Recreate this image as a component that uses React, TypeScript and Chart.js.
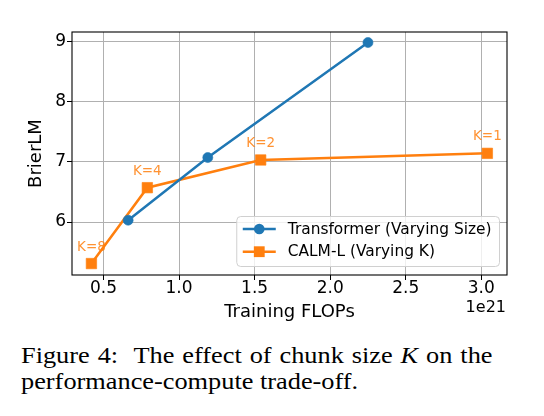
import React, { useEffect, useRef } from 'react';
import { Chart, registerables } from 'chart.js';

Chart.register(...registerables);

// ---- data ----
const transformerFlops = [0.663, 1.19, 2.25];
const transformerBrier = [6.03, 7.07, 8.98];
const calmFlops = [0.42, 0.79, 1.54, 3.04];
const calmBrier = [5.31, 6.57, 7.03, 7.14];
const calmLabels = ['K=8', 'K=4', 'K=2', 'K=1'];
const xTicks = [0.5, 1.0, 1.5, 2.0, 2.5, 3.0];
const yTicks = [6, 7, 8, 9];
const seriesNames = ['Transformer (Varying Size)', 'CALM-L (Varying K)'];
const xTitle = 'Training FLOPs';
const yTitle = 'BrierLM';
const xOffsetText = '1e21';

const BLUE = '#1f77b4';
const ORANGE = '#ff7f0e';
const FONT = 'DejaVu Sans';

const overlay = {
  id: 'overlay',
  afterDatasetsDraw(chart: any) {
    const { ctx, chartArea: a } = chart;
    ctx.save();
    // frame (spines)
    ctx.strokeStyle = '#000';
    ctx.lineWidth = 1.1;
    ctx.strokeRect(a.left, a.top, a.right - a.left, a.bottom - a.top);

    // K annotations above CALM points
    const meta = chart.getDatasetMeta(1);
    ctx.fillStyle = 'rgba(255,127,14,0.85)';
    ctx.font = `13.5px "${FONT}"`;
    ctx.textAlign = 'center';
    ctx.textBaseline = 'alphabetic';
    meta.data.forEach((p: any, i: number) => {
      ctx.fillText(calmLabels[i], p.x, p.y - 13);
    });

    // offset text
    ctx.fillStyle = '#000';
    ctx.font = `16px "${FONT}"`;
    ctx.textAlign = 'right';
    ctx.fillText(xOffsetText, a.right - 1, a.bottom + 36.5);
    ctx.restore();
  },
  afterDraw(chart: any) {
    const { ctx, chartArea: a } = chart;
    ctx.save();
    ctx.font = `15.4px "${FONT}"`;
    const tw = Math.max(...seriesNames.map((s) => ctx.measureText(s).width));
    const right = a.right - 7.5;
    const bottom = a.bottom - 8.5;
    const w = 51 + tw + 8;
    const h = 50;
    const left = right - w;
    const top = bottom - h;
    // box
    ctx.beginPath();
    const r = 4;
    ctx.moveTo(left + r, top);
    ctx.lineTo(right - r, top);
    ctx.quadraticCurveTo(right, top, right, top + r);
    ctx.lineTo(right, bottom - r);
    ctx.quadraticCurveTo(right, bottom, right - r, bottom);
    ctx.lineTo(left + r, bottom);
    ctx.quadraticCurveTo(left, bottom, left, bottom - r);
    ctx.lineTo(left, top + r);
    ctx.quadraticCurveTo(left, top, left + r, top);
    ctx.closePath();
    ctx.fillStyle = 'rgba(255,255,255,0.8)';
    ctx.fill();
    ctx.strokeStyle = '#d0d0d0';
    ctx.lineWidth = 1;
    ctx.stroke();

    const rows = [top + 12.5, top + 35.2];
    const colors = [BLUE, ORANGE];
    rows.forEach((y, i) => {
      ctx.strokeStyle = colors[i];
      ctx.lineWidth = 2.5;
      ctx.beginPath();
      ctx.moveTo(left + 6, y);
      ctx.lineTo(left + 39, y);
      ctx.stroke();
      ctx.fillStyle = colors[i];
      const cx = left + 22.5;
      if (i === 0) {
        ctx.beginPath();
        ctx.arc(cx, y, 5.3, 0, Math.PI * 2);
        ctx.fill();
      } else {
        ctx.fillRect(cx - 5.4, y - 5.4, 10.8, 10.8);
      }
      ctx.fillStyle = '#000';
      ctx.font = `15.4px "${FONT}"`;
      ctx.textAlign = 'left';
      ctx.textBaseline = 'middle';
      ctx.fillText(seriesNames[i], left + 51, y + 0.5);
    });
    ctx.restore();
  },
};

function BrierChart() {
  const ref = useRef<HTMLCanvasElement | null>(null);
  useEffect(() => {
    if (!ref.current) return;
    const chart = new Chart(ref.current, {
      type: 'scatter',
      data: {
        datasets: [
          {
            label: seriesNames[0],
            data: transformerFlops.map((x, i) => ({ x, y: transformerBrier[i] })),
            showLine: true,
            borderColor: BLUE,
            backgroundColor: BLUE,
            borderWidth: 2.5,
            pointStyle: 'circle',
            pointRadius: 5,
            pointBorderWidth: 0.6,
            pointBackgroundColor: BLUE,
            pointBorderColor: BLUE,
          },
          {
            label: seriesNames[1],
            data: calmFlops.map((x, i) => ({ x, y: calmBrier[i] })),
            showLine: true,
            borderColor: ORANGE,
            backgroundColor: ORANGE,
            borderWidth: 2.5,
            pointStyle: 'rect',
            pointRadius: 7.4,
            pointBorderWidth: 0.6,
            pointBackgroundColor: ORANGE,
            pointBorderColor: ORANGE,
          },
        ],
      },
      options: {
        animation: false,
        responsive: false,
        maintainAspectRatio: false,
        devicePixelRatio: 1,
        layout: { padding: { top: 32, right: 37, left: 0, bottom: 0 } },
        plugins: { legend: { display: false }, tooltip: { enabled: false } },
        scales: {
          x: {
            type: 'linear',
            min: 0.2915,
            max: 3.17,
            afterBuildTicks: (s: any) => {
              s.ticks = xTicks.map((v) => ({ value: v }));
            },
            afterFit: (s: any) => {
              s.height = 55;
            },
            ticks: {
              font: { family: FONT, size: 17, lineHeight: 1 },
              color: '#000',
              padding: 0,
              maxRotation: 0,
              autoSkip: false,
              callback: (v: any) => Number(v).toFixed(1),
            },
            grid: { color: '#b0b0b0', lineWidth: 1, tickColor: '#000', tickLength: 5, drawTicks: true },
            border: { display: false },
            title: {
              display: true,
              text: xTitle,
              color: '#000',
              font: { family: FONT, size: 18 },
              padding: { top: 0, bottom: 6.6 },
            },
          },
          y: {
            type: 'linear',
            min: 5.12,
            max: 9.155,
            afterBuildTicks: (s: any) => {
              s.ticks = yTicks.map((v) => ({ value: v }));
            },
            afterFit: (s: any) => {
              s.width = 72;
            },
            ticks: {
              font: { family: FONT, size: 17 },
              color: '#000',
              padding: 1,
              autoSkip: false,
              callback: (v: any) => String(v),
            },
            grid: { color: '#b0b0b0', lineWidth: 1, tickColor: '#000', tickLength: 5, drawTicks: true },
            border: { display: false },
            title: {
              display: true,
              text: yTitle,
              color: '#000',
              font: { family: FONT, size: 18 },
              padding: { top: 26, bottom: 0 },
            },
          },
        },
      },
      plugins: [overlay],
    } as any);
    return () => chart.destroy();
  }, []);
  return (
    <canvas
      ref={ref}
      width={544}
      height={330}
      style={{ position: 'absolute', left: 0, top: 0, width: 544, height: 330 }}
    />
  );
}

export default function App() {
  return (
    <div
      style={{
        position: 'absolute',
        left: 0,
        top: 0,
        width: 544,
        height: 416,
        background: '#fff',
        overflow: 'hidden',
      }}
    >
      <BrierChart />
      <div
        style={{
          position: 'absolute',
          left: 21,
          top: 343,
          width: 403,
          fontFamily: '"Liberation Serif", "Times New Roman", serif',
          fontSize: 22.5,
          lineHeight: '26px',
          color: '#000',
          transform: 'scaleX(1.17)',
          transformOrigin: 'left top',
          whiteSpace: 'nowrap',
        }}
      >
        <div style={{ textAlign: 'justify', textAlignLast: 'justify' as any }}>
          Figure 4:&nbsp; The effect of chunk size <i>K</i> on the
        </div>
        <div>performance-compute trade-off.</div>
      </div>
    </div>
  );
}
